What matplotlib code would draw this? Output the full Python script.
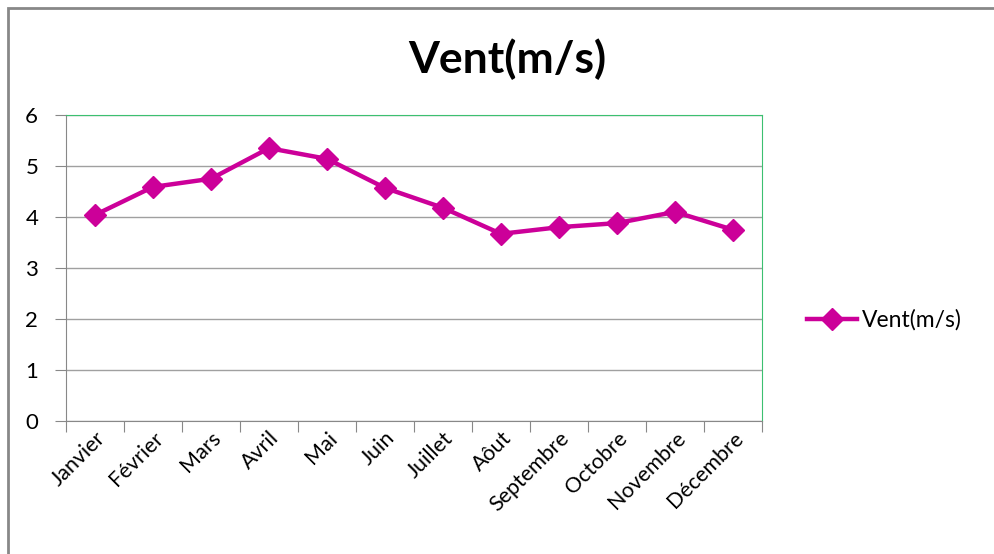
import matplotlib.pyplot as plt
from matplotlib.patches import Rectangle

mois = ["Janvier", "Février", "Mars", "Avril", "Mai", "Juin", "Juillet",
        "Aôut", "Septembre", "Octobre", "Novembre", "Décembre"]
vent = [4.04, 4.59, 4.75, 5.35, 5.14, 4.57, 4.18, 3.67, 3.80, 3.88, 4.10, 3.75]
yticks = [0, 1, 2, 3, 4, 5, 6]

plt.rcParams['font.family'] = ['Lato', 'DejaVu Sans']

fig = plt.figure(figsize=(9.94, 5.54), dpi=100)
ax = fig.add_axes([66 / 994, 133 / 554, 696 / 994, 306 / 554])

# cadre gris autour du graphique
fig.patches.append(Rectangle((8 / 994, -0.01), 1.0, 1 - 8 / 554 + 0.01,
                             transform=fig.transFigure, fill=False,
                             edgecolor='#888888', linewidth=2))

x = list(range(len(mois)))
ax.plot(x, vent, color='#CC0099', linewidth=3.2, marker='D', markersize=11,
        label='Vent(m/s)')

ax.set_xlim(-0.5, len(mois) - 0.5)
ax.set_ylim(0, 6)
ax.set_yticks(yticks)
ax.yaxis.grid(True, color='#a0a0a0', linewidth=1)
ax.set_axisbelow(True)

# graduations entre les catégories (style Excel)
ax.set_xticks([i - 0.5 for i in range(len(mois) + 1)])
ax.set_xticklabels([])
ax.set_xticks(x, minor=True)
ax.set_xticklabels(mois, minor=True, rotation=45, ha='right', va='top',
                   rotation_mode='anchor', fontsize=15.5)
ax.tick_params(axis='x', which='minor', length=0, pad=5)
ax.tick_params(axis='x', which='major', length=8, color='#888888')
ax.tick_params(axis='y', length=8, color='#888888', labelsize=16, pad=12)

for s in ['left', 'bottom']:
    ax.spines[s].set_color('#888888')
for s in ['top', 'right']:
    ax.spines[s].set_color('#3cc070')

fig.suptitle('Vent(m/s)', x=0.51, y=0.93, fontsize=32, fontweight='bold')
ax.legend(loc='center left', bbox_to_anchor=(1.035, 0.33), frameon=False,
          fontsize=16.5, handlelength=2.2, handletextpad=0.2)

fig.savefig('out.png', dpi=100)
